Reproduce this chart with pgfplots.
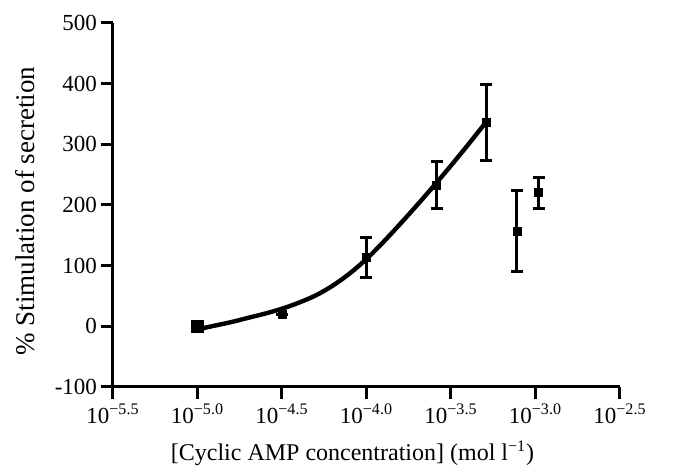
\documentclass[border=0pt]{standalone}
\usepackage{fontspec}
\setmainfont{Liberation Serif}
\usepackage{pgfplots}
\pgfplotsset{compat=1.18}
\begin{document}
\begin{tikzpicture}
\begin{axis}[
  scale only axis, width=253.5pt, height=182pt,
  at={(0,0)}, anchor=south west,
  xmin=-5.5, xmax=-2.5, ymin=-100, ymax=500,
  axis lines=left,
  axis line style={-, line width=1.5pt},
  xtick={-5.5,-5.0,-4.5,-4.0,-3.5,-3.0,-2.5},
  xticklabels={10\textsuperscript{−5.5},10\textsuperscript{−5.0},10\textsuperscript{−4.5},10\textsuperscript{−4.0},10\textsuperscript{−3.5},10\textsuperscript{−3.0},10\textsuperscript{−2.5}},
  ytick={-100,0,100,200,300,400,500},
  /pgf/number format/assume math mode=true,
  tick align=outside, major tick length=6pt,
  tick style={line width=1.5pt, black},
  tick label style={font=\fontsize{11.5}{13}\selectfont},
  xticklabel style={yshift=1pt},
  yticklabel style={xshift=1.5pt},
  xlabel={[Cyclic AMP concentration] (mol l\textsuperscript{−1})},
  ylabel={\% Stimulation of secretion},
  xlabel style={font=\fontsize{12}{14}\selectfont, yshift=-2pt, xshift=-7pt},
  ylabel style={font=\fontsize{13.5}{15}\selectfont, yshift=3pt, xshift=-3pt},
  clip=false,
]
% fitted curve
\addplot[black, line width=2.2pt, smooth, no marks] coordinates {
  (-5.0,-5) (-4.9,1) (-4.8,7) (-4.7,14) (-4.6,21) (-4.5,29) (-4.4,39) (-4.3,51)
  (-4.2,67) (-4.1,87) (-4.0,111) (-3.9,139) (-3.8,169) (-3.7,200) (-3.6,232)
  (-3.5,265) (-3.4,299) (-3.3,334)
};
% first point (larger marker)
\addplot[only marks, mark=square*, mark size=2.8pt, black] coordinates {(-5.0,0)};
% data with error bars
\addplot[only marks, mark=square*, mark size=2pt, black,
  error bars/.cd, y dir=both, y explicit,
  error bar style={line width=1.5pt},
  error mark options={rotate=90, mark size=3pt, line width=1.5pt}]
  coordinates {
  (-4.5,19) +- (0,0)
  (-4.0,114) +- (0,33)
  (-3.585,233) +- (0,39)
  (-3.29,336) +- (0,62)
  (-3.11,157) +- (0,67)
  (-2.98,220) +- (0,26)
};
\end{axis}
\pgfresetboundingbox
\path (-56.5pt,-43.5pt) rectangle (289pt,193.5pt);
\end{tikzpicture}
\end{document}
